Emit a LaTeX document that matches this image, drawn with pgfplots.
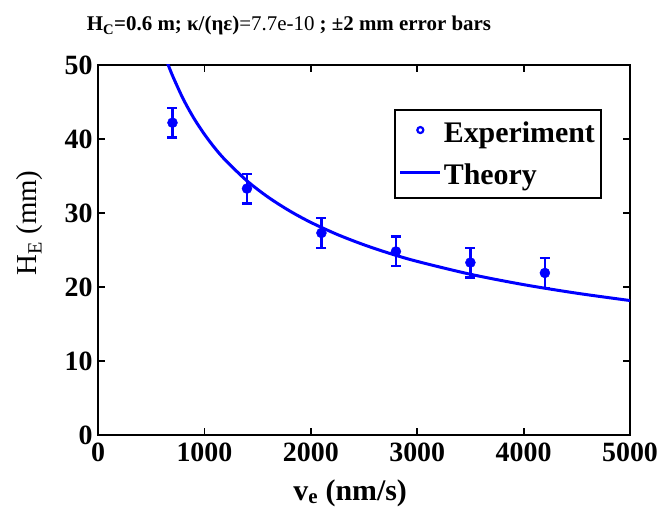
\documentclass[border=0pt]{standalone}
\usepackage{fontspec}
\setmainfont{Liberation Serif}
\usepackage{pgfplots}
\pgfplotsset{compat=1.18}
\begin{document}
\begin{tikzpicture}[x=1bp,y=1bp]
\useasboundingbox (0,0) rectangle (658,513);
\node[anchor=base, font=\fontsize{21}{24}\selectfont\bfseries] at (289,482) {H\textsubscript{C}=0.6 m; κ/(ηε)\mdseries=7.7e-10\bfseries{} ; ±2 mm error bars};
\begin{axis}[
  at={(98bp,78bp)}, anchor=south west,
  scale only axis, width=532bp, height=370bp,
  xmin=0, xmax=5000, ymin=0, ymax=50,
  xtick={0,1000,2000,3000,4000,5000},
  ytick={0,10,20,30,40,50},
  tick align=inside, major tick length=7bp,
  axis line style={line width=1.8bp},
  every tick/.style={line width=1.8bp, black},
  tick label style={font=\fontsize{28}{30}\selectfont\bfseries},
  xticklabel style={yshift=-4bp},
  yticklabel style={xshift=-2bp},
  /pgf/number format/assume math mode=true,
  /pgf/number format/set thousands separator={},
  scaled x ticks=false,
  xlabel={v\textsubscript{e} (nm/s)},
  ylabel={H\textsubscript{E} (mm)},
  xlabel style={font=\fontsize{30}{32}\selectfont\bfseries, at={(rel axis cs:0.474,-0.176)}, anchor=base},
  ylabel style={font=\fontsize{29}{32}\selectfont, at={(rel axis cs:-0.1147,0.573)}, anchor=base, rotate=0},
  legend style={at={(rel axis cs:0.947,0.881)}, anchor=north east, draw=black, line width=1.8bp,
    font=\fontsize{30}{32}\selectfont\bfseries, inner xsep=4bp, inner ysep=12bp, row sep=20bp,
    nodes={inner xsep=2bp, inner ysep=0pt}},
  legend cell align=left,
  clip=true,
]
\addplot[blue, only marks, mark=*, mark size=5bp, mark options={fill=blue, draw=blue}, forget plot,
  error bars/.cd, y dir=both, y explicit,
  error bar style={line width=2.4bp, blue},
  error mark options={rotate=90, mark size=5bp, line width=2.4bp, blue}]
  table[x=x, y=y, y error=e] {
x y e
700 42.2 2
1400 33.3 2
2100 27.3 2
2800 24.8 2
3500 23.3 2
4200 21.9 2
};
\addplot[blue, line width=3bp, smooth, forget plot] coordinates {
(655,50.2) (700,48.57) (800,45.43) (900,42.83) (1000,40.64) (1100,38.74) (1200,37.10)
(1400,34.34) (1600,32.13) (1800,30.29) (2000,28.73) (2250,27.09) (2500,25.70)
(2750,24.50) (3000,23.46) (3500,21.72) (4000,20.32) (4500,19.16) (5000,18.17)
};
\addlegendimage{legend image code/.code={\draw[blue, line width=2.2bp, fill=none] (20bp,0.3em) circle (3bp); \path[draw=none] (0bp,0.3em) -- (40bp,0.3em);}}
\addlegendentry{Experiment}
\addlegendimage{legend image code/.code={\draw[blue, line width=3bp] (0bp,0.3em) -- (40bp,0.3em);}}
\addlegendentry{Theory}
\end{axis}
\end{tikzpicture}
\end{document}
